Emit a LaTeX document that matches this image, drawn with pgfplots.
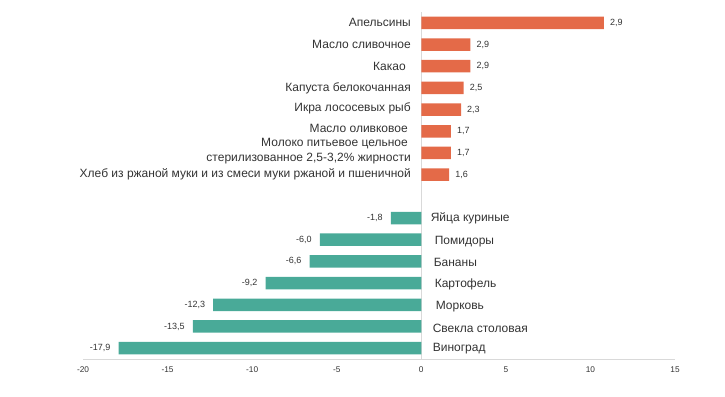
\documentclass[border=0pt]{standalone}
\usepackage{pgfplots}
\pgfplotsset{compat=1.18}
\usepackage{fontspec}
\setmainfont{Liberation Sans}
\definecolor{cpos}{RGB}{228,106,72}
\definecolor{cneg}{RGB}{73,170,152}
\definecolor{axgray}{RGB}{217,217,217}
\definecolor{txt}{RGB}{51,51,51}
\begin{document}
\begin{tikzpicture}
\useasboundingbox (-83pt,-37pt) rectangle (642pt,359pt);
\begin{axis}[
 scale only axis, width=592pt, height=347pt,
 xmin=-20, xmax=15, ymin=-0.5, ymax=15.5,
 xtick={-20,-15,-10,-5,0,5,10,15},
 ytick=\empty,
 axis x line*=bottom, axis y line=none,
 x axis line style={axgray, line width=0.8pt, -},
 xtick style={draw=none},
 xticklabel style={font=\fontsize{8.3}{9}\selectfont, text=txt, yshift=-4pt,
   /pgf/number format/assume math mode=true, /pgf/number format/int detect},
 xbar, bar width=12.5pt, bar shift=0pt,
 nodes near coords align=horizontal,
 clip=false,
]
\draw[axgray, line width=1pt] (axis cs:0,-0.5) -- (axis cs:0,15.5);
\addplot[xbar, fill=cpos, draw=none, nodes near coords, point meta=explicit,
  nodes near coords style={font=\fontsize{9}{10}\selectfont, text=txt, inner xsep=6pt,
   /pgf/number format/use comma, /pgf/number format/fixed, /pgf/number format/fixed zerofill,
   /pgf/number format/precision=1, /pgf/number format/assume math mode=true}]
 table[x=x, y=y, meta=m] {
x y m
10.8 15 2.9
2.9 14 2.9
2.9 13 2.9
2.5 12 2.5
2.35 11 2.3
1.75 10 1.7
1.75 9 1.7
1.65 8 1.6
};
\addplot[xbar, fill=cneg, draw=none, nodes near coords, point meta=explicit,
  nodes near coords style={font=\fontsize{9}{10}\selectfont, text=txt, inner xsep=8pt,
   /pgf/number format/use comma, /pgf/number format/fixed, /pgf/number format/fixed zerofill,
   /pgf/number format/precision=1, /pgf/number format/assume math mode=true}]
 table[x=x, y=y, meta=m] {
x y m
-1.8 6 -1.8
-6.0 5 -6.0
-6.6 4 -6.6
-9.2 3 -9.2
-12.3 2 -12.3
-13.5 1 -13.5
-17.9 0 -17.9
};
\begin{scope}[every node/.style={font=\fontsize{12}{14.5}\selectfont, text=txt}]
\node[anchor=east, xshift=-7pt] at (axis cs:0,15) {Апельсины};
\node[anchor=east, xshift=-7pt] at (axis cs:0,14) {Масло сливочное};
\node[anchor=east, xshift=-12pt] at (axis cs:0,13) {Какао};
\node[anchor=east, xshift=-7pt] at (axis cs:0,12) {Капуста белокочанная};
\node[anchor=east, xshift=-7pt] at (axis cs:0,11.05) {Икра лососевых рыб};
\node[anchor=east, xshift=-10pt, yshift=1pt] at (axis cs:0,10.1) {Масло оливковое};
\node[anchor=east, xshift=-7pt, align=right, yshift=2pt] at (axis cs:0,9) {Молоко питьевое цельное\hspace*{3pt}\\стерилизованное 2,5-3,2\% жирности};
\node[anchor=east, xshift=-7pt] at (axis cs:0,8) {Хлеб из ржаной муки и из смеси муки ржаной и пшеничной};
\node[anchor=west, xshift=6pt] at (axis cs:0,6) {Яйца куриные};
\node[anchor=west, xshift=10pt, yshift=-2pt] at (axis cs:0,5) {Помидоры};
\node[anchor=west, xshift=9pt, yshift=-1pt] at (axis cs:0,4) {Бананы};
\node[anchor=west, xshift=10pt, yshift=-1pt] at (axis cs:0,3) {Картофель};
\node[anchor=west, xshift=11pt, yshift=-2pt] at (axis cs:0,2) {Морковь};
\node[anchor=west, xshift=8pt, yshift=-2pt] at (axis cs:0,1) {Свекла столовая};
\node[anchor=west, xshift=8pt] at (axis cs:0,0) {Виноград};
\end{scope}
\end{axis}
\end{tikzpicture}
\end{document}
